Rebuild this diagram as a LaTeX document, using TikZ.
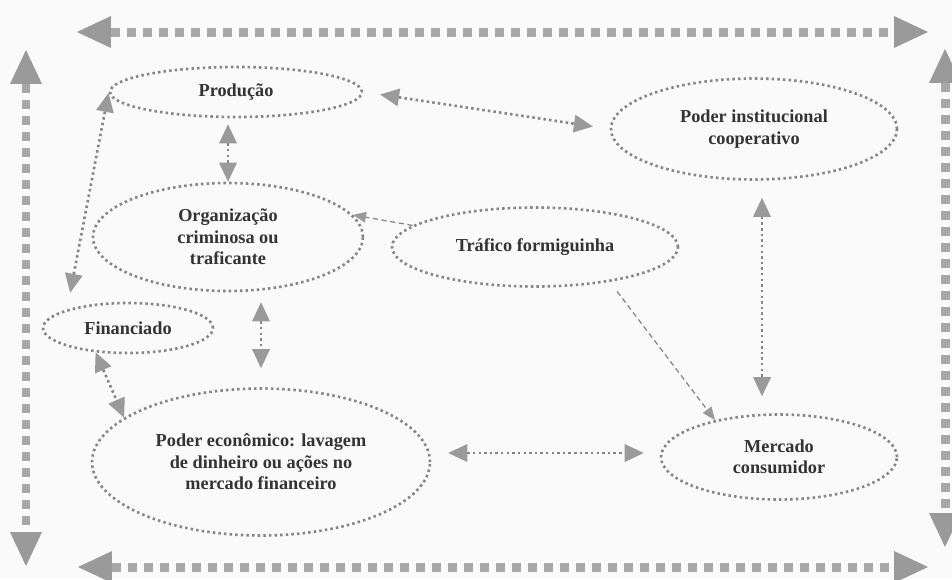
\documentclass[tikz,border=0pt]{standalone}
\usepackage{fontspec}
\setmainfont{Liberation Serif}
\usetikzlibrary{shapes.geometric}
\usetikzlibrary{arrows.meta}
\usetikzlibrary{calc}

\definecolor{framegray}{HTML}{A8A8A8}
\definecolor{dotgray}{HTML}{858585}
\definecolor{headgray}{HTML}{9A9A9A}
\definecolor{textgray}{HTML}{333333}

\begin{document}
\begin{tikzpicture}[x=0.02cm, y=-0.02cm,
	bubble/.style={ellipse, draw=dotgray, line width=1.5pt, dash pattern=on 1.4pt off 1.8pt,
		text=textgray, font=\fontsize{10.4}{12.2}\selectfont\bfseries, align=center, inner sep=0pt},
	link/.style={draw=dotgray, line width=1.5pt, dash pattern=on 1.4pt off 1.8pt,
		>={Triangle[length=0.38cm, width=0.36cm, line width=0pt, color=headgray]}, <->},
	flow/.style={draw=dotgray, line width=0.7pt, dash pattern=on 3pt off 2pt,
		>={Triangle[length=0.26cm, width=0.22cm, line width=0pt, color=headgray]}, ->},
	frame/.style={draw=framegray, line width=0.18cm, dash pattern=on 0.18cm off 0.14cm,
		>={Triangle[length=0.68cm, width=0.64cm, line width=0pt, color=headgray]}, <->}]

	\useasboundingbox [fill=black!2] (0,0) rectangle (952,579);

	% outer frame
	\coordinate (TL) at (77,32);
	\coordinate (TR) at (928,32);
	\coordinate (BL) at (78,567);
	\coordinate (BR) at (928,567);
	\coordinate (LT) at (26,50);
	\coordinate (LB) at (26,566);
	\coordinate (RT) at (945,49);
	\coordinate (RB) at (945,547);

	\draw [frame] (TL) -- (TR);
	\draw [frame] (BL) -- (BR);
	\draw [frame] (LT) -- (LB);
	\draw [frame] (RT) -- (RB);

	% ellipses
	\node (prod) [bubble, minimum width=5.04cm, minimum height=1cm] at (236,92) {Produção};
	\node (org) [bubble, minimum width=5.4cm, minimum height=2.16cm] at (228,237) {Organização\\criminosa ou\\traficante};
	\node (traf) [bubble, minimum width=5.72cm, minimum height=1.58cm] at (535,247) {Tráfico formiguinha};
	\node (inst) [bubble, minimum width=5.72cm, minimum height=2.02cm] at (754,129) {Poder institucional\\cooperativo};
	\node (fin) [bubble, minimum width=3.4cm, minimum height=1cm] at (128,328) {Financiado};
	\node (econ) [bubble, minimum width=6.76cm, minimum height=2.94cm] at (261,462) {Poder econômico: lavagem\\de dinheiro ou ações no\\mercado financeiro};
	\node (merc) [bubble, minimum width=4.72cm, minimum height=1.7cm] at (779,457) {Mercado\\consumidor};

	% connectors
	\draw [link, shorten <=0.34cm, shorten >=0.34cm] (prod.east) -- (inst.west);
	\draw [link, shorten <=0.12cm] (org.north |- prod.south) -- (org.north);
	\draw [link, shorten <=0.02cm, shorten >=0.34cm] (prod.west) -- (fin.north west);
	\draw [flow] (traf.170) -- (org.10);
	\draw [link, shorten <=0.2cm, shorten >=0.38cm] (org.south -| econ.north) -- (econ.north);
	\draw [link] (fin.-143) -- (econ.162);
	\draw [flow, shorten <=0.24cm] (traf.-25) -- (merc.150);
	\draw [link, shorten <=0.34cm, shorten >=0.34cm] ($(inst.south)+(8,0)$) -- ($(inst.south |- merc.north)+(8,0)$);
	\draw [link, shorten <=0.34cm, shorten >=0.32cm] ($(econ.east)+(0,-9)$) -- ($(merc.west |- econ.east)+(0,-9)$);

\end{tikzpicture}
\end{document}
